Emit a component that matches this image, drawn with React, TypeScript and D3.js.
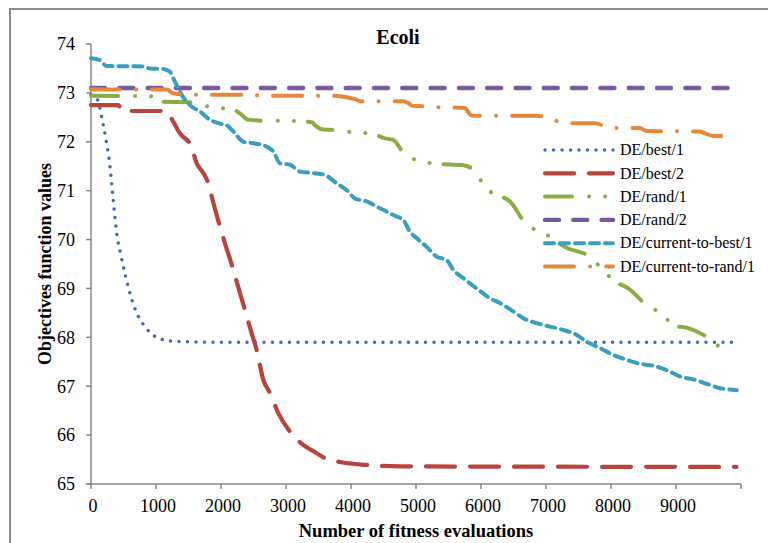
import React from 'react';
import * as d3 from 'd3';

// values (evaluations, objective value)
const best1: [number, number][] = [
  [0, 72.96], [100, 72.86], [165, 72.5], [231, 72.04], [292, 71.5], [343, 70.8], [395, 70.13],
  [457, 69.7], [523, 69.3], [615, 68.83], [703, 68.5], [831, 68.22], [1010, 68.0], [1266, 67.92],
  [2000, 67.9], [9930, 67.9],
];
const best2: [number, number][] = [
  [0, 72.75], [420, 72.75], [480, 72.63], [1150, 72.63], [1266, 72.41], [1369, 72.17], [1472, 72.04],
  [1523, 71.97], [1626, 71.56], [1728, 71.36], [1805, 71.15], [1857, 70.88], [1985, 70.26],
  [2046, 69.99], [2174, 69.45], [2241, 69.14], [2369, 68.56], [2472, 68.08], [2549, 67.74],
  [2651, 67.13], [2754, 66.86], [2882, 66.45], [3062, 66.07], [3266, 65.8], [3472, 65.63],
  [3600, 65.53], [3831, 65.45], [4241, 65.39], [4754, 65.36], [9930, 65.35],
];
const rand1: [number, number][] = [
  [0, 72.94], [969, 72.93], [1100, 72.82], [1550, 72.81], [1650, 72.77], [1857, 72.71],
  [2200, 72.65], [2292, 72.58], [2420, 72.45], [2703, 72.43], [3000, 72.43], [3400, 72.4],
  [3446, 72.34], [3574, 72.25], [3750, 72.24], [4060, 72.19], [4318, 72.17], [4523, 72.07],
  [4651, 72.04], [4831, 71.73], [5062, 71.61], [5308, 71.55], [5728, 71.52], [5933, 71.36],
  [6062, 71.05], [6266, 70.91], [6446, 70.78], [6703, 70.3], [6933, 70.16], [7292, 69.85],
  [7703, 69.62], [7882, 69.36], [8072, 69.14], [8266, 69.0], [8574, 68.63], [8795, 68.48],
  [8958, 68.24], [9189, 68.19], [9574, 67.91], [9754, 67.69],
];
const rand2: [number, number][] = [[0, 73.1], [9930, 73.1]];
const curBest: [number, number][] = [
  [0, 73.71], [138, 73.67], [241, 73.55], [805, 73.54], [908, 73.5], [1113, 73.49], [1215, 73.43],
  [1292, 73.23], [1395, 72.96], [1549, 72.72], [1677, 72.62], [1831, 72.45], [1959, 72.38],
  [2087, 72.34], [2190, 72.21], [2344, 72.0], [2497, 71.97], [2651, 71.93], [2805, 71.8],
  [2908, 71.56], [3062, 71.53], [3215, 71.39], [3420, 71.36], [3600, 71.32], [3780, 71.15],
  [3934, 71.01], [4062, 70.84], [4241, 70.78], [4446, 70.64], [4703, 70.47], [4805, 70.4],
  [4908, 70.16], [5010, 70.03], [5164, 69.85], [5318, 69.65], [5472, 69.58], [5574, 69.38],
  [5728, 69.21], [5933, 69.0], [6138, 68.8], [6292, 68.7], [6497, 68.53], [6651, 68.39],
  [6857, 68.29], [7062, 68.22], [7267, 68.15], [7472, 68.05], [7626, 67.91], [7831, 67.78],
  [8036, 67.64], [8241, 67.54], [8446, 67.46], [8651, 67.42], [8857, 67.33], [9062, 67.2],
  [9266, 67.14], [9472, 67.05], [9677, 66.96], [9934, 66.92],
];
const curRand: [number, number][] = [
  [0, 73.07], [1164, 73.07], [1266, 72.99], [1395, 72.97], [1626, 72.96], [2395, 72.96],
  [2805, 72.94], [3728, 72.94], [3934, 72.91], [4087, 72.86], [4138, 72.83], [4805, 72.83],
  [4882, 72.79], [4960, 72.73], [5062, 72.73], [5308, 72.71], [5754, 72.69], [5831, 72.56],
  [5908, 72.53], [6857, 72.53], [7077, 72.47], [7292, 72.38], [7754, 72.38], [7974, 72.29],
  [8215, 72.28], [8446, 72.28], [8549, 72.22], [9369, 72.21], [9446, 72.17], [9574, 72.12],
  [9934, 72.12],
];

const seriesNames = ['DE/best/1', 'DE/best/2', 'DE/rand/1', 'DE/rand/2', 'DE/current-to-best/1', 'DE/current-to-rand/1'];
const seriesData = [best1, best2, rand1, rand2, curBest, curRand];
const xTicks = [0, 1000, 2000, 3000, 4000, 5000, 6000, 7000, 8000, 9000];
const yTicks = [65, 66, 67, 68, 69, 70, 71, 72, 73, 74];

const styles = [
  { color: '#3F6DB3', width: 3.4, dash: '0.1 8.4', cap: 'round' },
  { color: '#B8443F', width: 4.2, dash: '29 15', cap: 'round' },
  { color: '#8AAE45', width: 4, dash: '27 17 0.1 16 0.1 14', cap: 'round' },
  { color: '#7A5A9E', width: 4.4, dash: '14 14.3', cap: 'round' },
  { color: '#3A9FBE', width: 4, dash: '9 6', cap: 'round' },
  { color: '#E6873A', width: 4, dash: '29 16 0.1 16', cap: 'round' },
];

const font = "'Liberation Serif', 'Times New Roman', 'DejaVu Serif', serif";

export default function App() {
  const x = d3.scaleLinear().domain([0, 10000]).range([91, 741]);
  const y = d3.scaleLinear().domain([65, 74]).range([484, 44]);
  const line = d3.line<[number, number]>()
    .x(d => x(d[0]))
    .y(d => y(d[1]))
    .curve(d3.curveMonotoneX);

  const axisColor = '#868686';
  const legX = 545, legY = 150, legStep = 23.3;

  return (
    <div style={{ position: 'absolute', left: 0, top: 0 }}>
      <svg width={768} height={543} style={{ display: 'block', background: '#fff', fontFamily: font }}>
        <path d="M10,543 V9 H768" fill="none" stroke="#8a8a8a" strokeWidth={2} />

        <text x={398} y={44} textAnchor="middle" fontSize={20} fontWeight="bold">Ecoli</text>

        {/* axes */}
        <line x1={x(0)} x2={x(0)} y1={y(74)} y2={y(65)} stroke={axisColor} strokeWidth={1.5} />
        <line x1={x(0) - 5} x2={x(10000)} y1={y(65)} y2={y(65)} stroke={axisColor} strokeWidth={1.5} />
        {yTicks.map(t => (
          <g key={t}>
            <line x1={x(0) - 5} x2={x(0)} y1={y(t)} y2={y(t)} stroke={axisColor} strokeWidth={1.5} />
            <text x={75} y={y(t)} dy="0.35em" textAnchor="end" fontSize={18}>{t}</text>
          </g>
        ))}
        {xTicks.concat([10000]).map(t => (
          <line key={t} x1={x(t)} x2={x(t)} y1={y(65)} y2={y(65) + 5} stroke={axisColor} strokeWidth={1.5} />
        ))}
        {xTicks.map(t => (
          <text key={t} x={x(t) + 2} y={512} textAnchor="middle" fontSize={18}>{t}</text>
        ))}

        <text x={416} y={537} textAnchor="middle" fontSize={18.5} fontWeight="bold">Number of fitness evaluations</text>
        <text transform="translate(51,264) rotate(-90)" textAnchor="middle" fontSize={18} fontWeight="bold">Objectives function values</text>

        {/* series */}
        {seriesData.map((d, i) => (
          <path key={seriesNames[i]} d={line(d) || ''} fill="none" stroke={styles[i].color}
            strokeWidth={styles[i].width} strokeDasharray={styles[i].dash}
            strokeLinecap={styles[i].cap as any} strokeLinejoin="round" />
        ))}

        {/* legend */}
        {seriesNames.map((name, i) => (
          <g key={name} transform={`translate(${legX},${legY + i * legStep})`}>
            <line x1={0} x2={68} y1={0} y2={0} stroke={styles[i].color} strokeWidth={styles[i].width}
              strokeDasharray={styles[i].dash} strokeLinecap={styles[i].cap as any} />
            <text x={75} y={0} dy="0.33em" fontSize={16}>{name}</text>
          </g>
        ))}
      </svg>
    </div>
  );
}
